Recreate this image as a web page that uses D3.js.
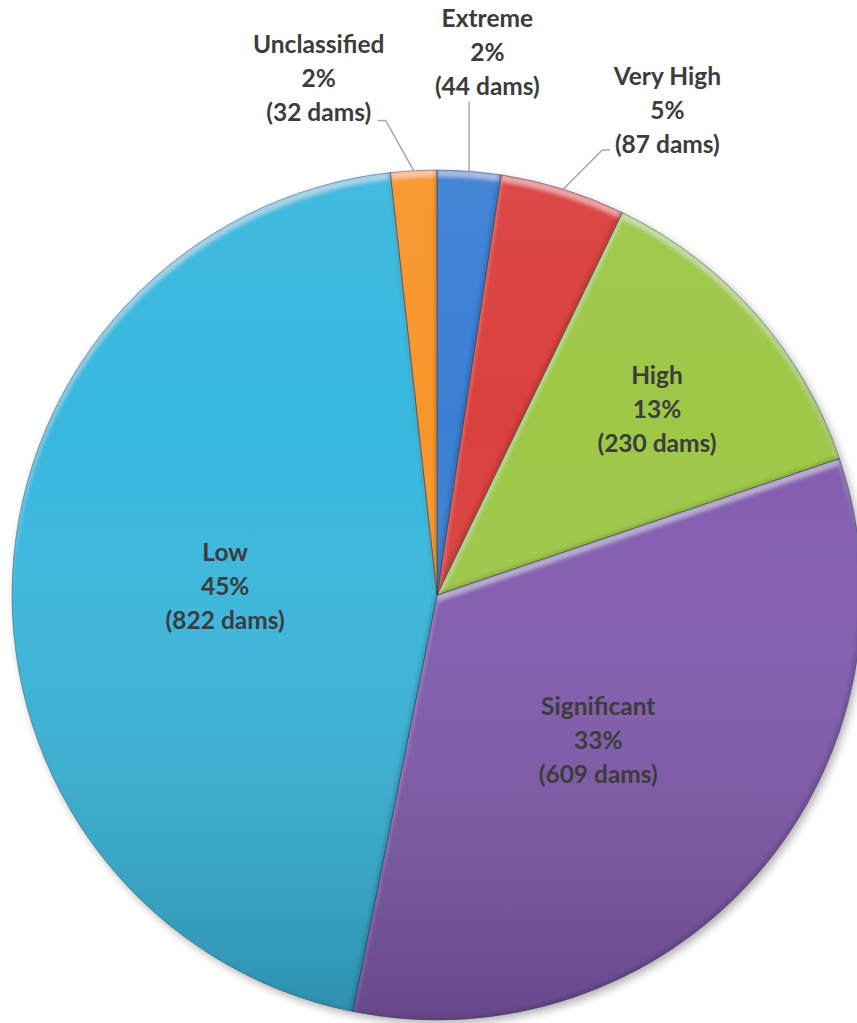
<!DOCTYPE html>
<html><head><meta charset="utf-8">
<script src="https://cdn.jsdelivr.net/npm/d3@7"></script>
<style>html,body{margin:0;padding:0;background:#fff;} svg{display:block}</style>
</head><body>
<svg id="chart" width="857" height="1023"></svg>
<script>
// ---- data ----
const categories = ["Extreme", "Very High", "High", "Significant", "Low", "Unclassified"];
const damCounts  = [44, 87, 230, 609, 822, 32];
const colors     = ["#3a7fd4", "#da3f3e", "#9dc847", "#825cb0", "#37b8de", "#f8962b"];

// ---- layout (positions of label blocks in polar coords around pie centre: [angleDeg, radius]) ----
const layout = {
  cx: 437, cy: 595, R: 425,
  labelPolar: [[5.3, 545], [25.4, 537], [49.8, 288], [132.0, 217], [272.4, 212], [347.1, 530]],
  lineGap: 34
};

const svg = d3.select("#chart");
const defs = svg.append("defs");

// bevel filter: light on upward-facing edges, dark on downward-facing edges
const f = defs.append("filter").attr("id", "bevel").attr("x", "-2%").attr("y", "-2%").attr("width", "104%").attr("height", "104%");
f.append("feOffset").attr("in", "SourceAlpha").attr("dx", 0).attr("dy", 6).attr("result", "offA");
f.append("feComposite").attr("in", "SourceAlpha").attr("in2", "offA").attr("operator", "out").attr("result", "hiBand");
f.append("feGaussianBlur").attr("in", "hiBand").attr("stdDeviation", 2).attr("result", "hiBlur");
f.append("feFlood").attr("flood-color", "#ffffff").attr("flood-opacity", 0.4).attr("result", "white");
f.append("feComposite").attr("in", "white").attr("in2", "hiBlur").attr("operator", "in").attr("result", "hiCol");
f.append("feComposite").attr("in", "hiCol").attr("in2", "SourceAlpha").attr("operator", "in").attr("result", "hi");
f.append("feOffset").attr("in", "SourceAlpha").attr("dx", -3).attr("dy", -2).attr("result", "offB");
f.append("feComposite").attr("in", "SourceAlpha").attr("in2", "offB").attr("operator", "out").attr("result", "shBand");
f.append("feGaussianBlur").attr("in", "shBand").attr("stdDeviation", 1.5).attr("result", "shBlur");
f.append("feFlood").attr("flood-color", "#000000").attr("flood-opacity", 0.3).attr("result", "black");
f.append("feComposite").attr("in", "black").attr("in2", "shBlur").attr("operator", "in").attr("result", "shCol");
f.append("feComposite").attr("in", "shCol").attr("in2", "SourceAlpha").attr("operator", "in").attr("result", "sh");
const fm = f.append("feMerge");
fm.append("feMergeNode").attr("in", "SourceGraphic");
fm.append("feMergeNode").attr("in", "hi");
fm.append("feMergeNode").attr("in", "sh");

// drop shadow
const ds = defs.append("filter").attr("id", "shadow").attr("x", "-10%").attr("y", "-10%").attr("width", "120%").attr("height", "120%");
ds.append("feGaussianBlur").attr("in", "SourceGraphic").attr("stdDeviation", 4);

// vertical shading overlay (local coords of the translated group)
const g1 = defs.append("linearGradient").attr("id", "shade").attr("gradientUnits", "userSpaceOnUse")
  .attr("x1", 0).attr("y1", -layout.R).attr("x2", 0).attr("y2", layout.R);
g1.append("stop").attr("offset", "0").attr("stop-color", "#fff").attr("stop-opacity", 0.05);
g1.append("stop").attr("offset", "0.3").attr("stop-color", "#fff").attr("stop-opacity", 0);
g1.append("stop").attr("offset", "1").attr("stop-color", "#000").attr("stop-opacity", 0.22);

const total = d3.sum(damCounts);
const data = categories.map((c, i) => ({ name: c, value: damCounts[i], color: colors[i], idx: i }));

const pie = d3.pie().value(d => d.value).sort(null);
const arcs = pie(data);
const arc = d3.arc().innerRadius(0).outerRadius(layout.R);

const g = svg.append("g").attr("transform", `translate(${layout.cx},${layout.cy})`);

g.append("circle").attr("cx", 3).attr("cy", 4).attr("r", layout.R).attr("fill", "#000").attr("opacity", 0.3).attr("filter", "url(#shadow)");

g.selectAll("path.slice").data(arcs).join("path")
  .attr("class", "slice")
  .attr("d", arc)
  .attr("fill", d => d.data.color)
  .attr("filter", "url(#bevel)");

g.append("circle").attr("r", layout.R).attr("fill", "url(#shade)").attr("pointer-events", "none");

// thin dark separators between slices
g.selectAll("path.sep").data(arcs).join("path")
  .attr("class", "sep")
  .attr("d", arc)
  .attr("fill", "none")
  .attr("stroke", "#1e2a40")
  .attr("stroke-opacity", 0.45)
  .attr("stroke-width", 0.8);

const pct = d3.format(".0%");

// leader lines for outer labels
const outerIdx = [0, 1, 5];
const mid = d => (d.startAngle + d.endAngle) / 2;
function labelCenter(i) {
  const [a, r] = layout.labelPolar[i];
  return d3.pointRadial(a * Math.PI / 180, r);
}
const leader = g.append("g").attr("fill", "none").attr("stroke", "#a6a6a6").attr("stroke-width", 1.5);
outerIdx.forEach(i => {
  const d = arcs[i];
  const s = d3.pointRadial(mid(d), layout.R);
  const [lx, ly] = labelCenter(i);
  let pts;
  if (i === 0) pts = [s, [s[0], ly + 50]];
  else if (i === 1) pts = [s, [lx - 65, ly + 40], [lx - 57, ly + 40]];
  else pts = [s, [lx + 67, ly + 42], [lx + 59, ly + 42]];
  leader.append("path").attr("d", d3.line()(pts));
});

// labels
const labels = g.selectAll("text.lbl").data(arcs).join("text")
  .attr("class", "lbl")
  .attr("text-anchor", "middle")
  .attr("font-family", "Lato, 'Open Sans', sans-serif")
  .attr("font-weight", "bold")
  .attr("font-size", 24.5)
  .attr("fill", "#3c3c3c")
  .attr("transform", (d, i) => { const p = labelCenter(i); return `translate(${p[0]},${p[1]})`; });

labels.each(function(d) {
  const t = d3.select(this);
  const lines = [d.data.name, pct(d.data.value / total), `(${d.data.value} dams)`];
  lines.forEach((l, k) => {
    t.append("tspan").attr("x", 0).attr("y", (k - 1) * layout.lineGap + 9).text(l);
  });
});
</script>
</body></html>
